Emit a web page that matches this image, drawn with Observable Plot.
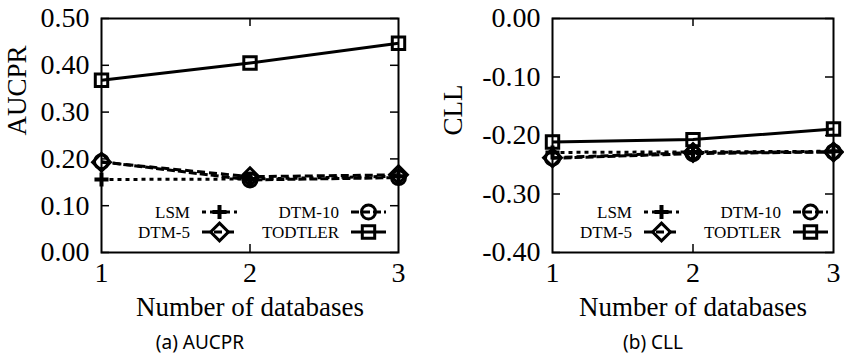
<!DOCTYPE html>
<html><head><meta charset="utf-8">
<script src="https://cdn.jsdelivr.net/npm/d3@7"></script>
<script src="https://cdn.jsdelivr.net/npm/@observablehq/plot@0.6"></script>
<style>
body{margin:0;background:#fff;}
#wrap{position:relative;width:844px;height:356px;overflow:hidden;background:#fff;}
.panel{position:absolute;top:0;}
</style></head><body><div id="wrap"></div>
<script>
// ---- data ----
const databases = [1, 2, 3];
const seriesNames = ["LSM", "DTM-5", "DTM-10", "TODTLER"];
const aucprLSM = [0.156, 0.157, 0.163];
const aucprDTM5 = [0.193, 0.162, 0.166];
const aucprDTM10 = [0.194, 0.155, 0.160];
const aucprTODTLER = [0.368, 0.405, 0.447];
const cllLSM = [-0.229, -0.228, -0.227];
const cllDTM5 = [-0.238, -0.229, -0.228];
const cllDTM10 = [-0.239, -0.231, -0.228];
const cllTODTLER = [-0.211, -0.207, -0.189];
const aucprTicks = [0, 0.1, 0.2, 0.3, 0.4, 0.5];
const cllTicks = [0, -0.1, -0.2, -0.3, -0.4];
const xLabel = "Number of databases";
const captionA = "(a) AUCPR";
const captionB = "(b) CLL";

const FONT = "Liberation Serif, Times New Roman, serif";
const CAPFONT = "Noto Sans, sans-serif";

// ---- styles ----
const styles = {
  "LSM":     {dash: "4,4", symbol: "plus",     r: 4.6, sw: 4},
  "DTM-5":   {dash: "8,4", symbol: "diamond2", r: 8,   sw: 3},
  "DTM-10":  {dash: "8,3", symbol: "circle",   r: 7,   sw: 3},
  "TODTLER": {dash: null,  symbol: "square",   r: 7,   sw: 3}
};
const d3sym = {plus: d3.symbolPlus, diamond2: d3.symbolDiamond2, circle: d3.symbolCircle, square: d3.symbolSquare};

function makePanel(cfg) {
  const W = 422, H = 356, mt = 18, mb = 104;
  const fw = W - cfg.marginLeft - cfg.marginRight, fh = H - mt - mb;
  const seriesVals = [cfg.values.LSM, cfg.values["DTM-5"], cfg.values["DTM-10"], cfg.values.TODTLER];
  const marks = [
    Plot.axisX({ticks: databases, tickFormat: d => String(d), tickSize: 0, tickPadding: 10, label: null,
      fontFamily: FONT, fontSize: 28, fill: "black"}),
    Plot.axisY({ticks: cfg.ticks, tickFormat: d => d.toFixed(2), tickSize: 0, tickPadding: 12, label: null,
      fontFamily: FONT, fontSize: 28, fill: "black"}),
    Plot.tickY(cfg.ticks, {y: d => d, insetRight: fw - 8, strokeWidth: 1.5}),
    Plot.tickY(cfg.ticks, {y: d => d, insetLeft: fw - 8, strokeWidth: 1.5}),
    Plot.tickX([2], {x: d => d, insetTop: fh - 8, strokeWidth: 1.5}),
    Plot.tickX([2], {x: d => d, insetBottom: fh - 8, strokeWidth: 1.5}),
    Plot.text([cfg.label], {text: d => d, frameAnchor: "left", rotate: -90, dx: -cfg.labelOffset,
      fontSize: 27, fontFamily: FONT, fill: "black"}),
    Plot.text([xLabel], {text: d => d, frameAnchor: "bottom", dy: 55, lineAnchor: "middle",
      fontSize: 27, fontFamily: FONT, fill: "black"}),
    Plot.text([cfg.caption], {text: d => d, frameAnchor: "bottom", dy: 90, dx: cfg.captionDx,
      lineAnchor: "middle", fontSize: 19, fontFamily: CAPFONT, fill: "black"})
  ];
  seriesNames.forEach((name, i) => {
    const st = styles[name];
    const rows = databases.map((x, j) => ({x, y: seriesVals[i][j]}));
    marks.push(Plot.line(rows, {x: "x", y: "y", stroke: "black", strokeWidth: 3,
      strokeDasharray: st.dash || undefined, strokeLinecap: "butt"}));
  });
  seriesNames.forEach((name, i) => {
    const st = styles[name];
    const rows = databases.map((x, j) => ({x, y: seriesVals[i][j]}));
    marks.push(Plot.dot(rows, {x: "x", y: "y", symbol: st.symbol, r: st.r, stroke: "black",
      strokeWidth: st.sw, fill: "none"}));
  });
  marks.push(Plot.frame({strokeWidth: 2}));
  const svg = Plot.plot({
    width: W, height: H, marginLeft: cfg.marginLeft, marginRight: cfg.marginRight,
    marginTop: mt, marginBottom: mb,
    style: {fontFamily: FONT, fontSize: "28px", color: "black", background: "white"},
    x: {domain: [1, 3]},
    y: {domain: cfg.domain},
    marks
  });
  // legend
  const g = d3.select(svg).append("g").attr("class", "legend");
  const rowsY = [212, 232];
  const layout = [
    {name: "LSM", col: 0, row: 0}, {name: "DTM-10", col: 1, row: 0},
    {name: "DTM-5", col: 0, row: 1}, {name: "TODTLER", col: 1, row: 1}
  ];
  layout.forEach(item => {
    const st = styles[item.name];
    const xEnd = cfg.legendCols[item.col];
    const y = rowsY[item.row];
    g.append("text").attr("x", xEnd).attr("y", y).attr("dy", "0.35em")
      .attr("text-anchor", "end").attr("font-family", FONT)
      .attr("font-size", 17).attr("fill", "black").text(item.name);
    const x0 = xEnd + 12, x1 = x0 + 35;
    g.append("line").attr("x1", x0).attr("x2", x1).attr("y1", y).attr("y2", y)
      .attr("stroke", "black").attr("stroke-width", 3)
      .attr("stroke-dasharray", st.dash || null);
    g.append("path").attr("transform", `translate(${(x0 + x1) / 2},${y})`)
      .attr("d", d3.symbol(d3sym[st.symbol], Math.PI * st.r * st.r)())
      .attr("fill", "none").attr("stroke", "black").attr("stroke-width", st.sw);
  });
  const div = document.createElement("div");
  div.className = "panel";
  div.style.left = cfg.left + "px";
  div.appendChild(svg);
  return div;
}

const wrap = document.getElementById("wrap");
wrap.appendChild(makePanel({
  left: 0, marginLeft: 101, marginRight: 24, domain: [0, 0.5], ticks: aucprTicks,
  label: "AUCPR", labelOffset: 84, caption: captionA, captionDx: -50,
  values: {"LSM": aucprLSM, "DTM-5": aucprDTM5, "DTM-10": aucprDTM10, "TODTLER": aucprTODTLER},
  legendCols: [190, 339]
}));
wrap.appendChild(makePanel({
  left: 422, marginLeft: 130, marginRight: 11, domain: [-0.4, 0], ticks: cllTicks,
  label: "CLL", labelOffset: 99, caption: captionB, captionDx: -40,
  values: {"LSM": cllLSM, "DTM-5": cllDTM5, "DTM-10": cllDTM10, "TODTLER": cllTODTLER},
  legendCols: [210, 359]
}));
</script></body></html>
